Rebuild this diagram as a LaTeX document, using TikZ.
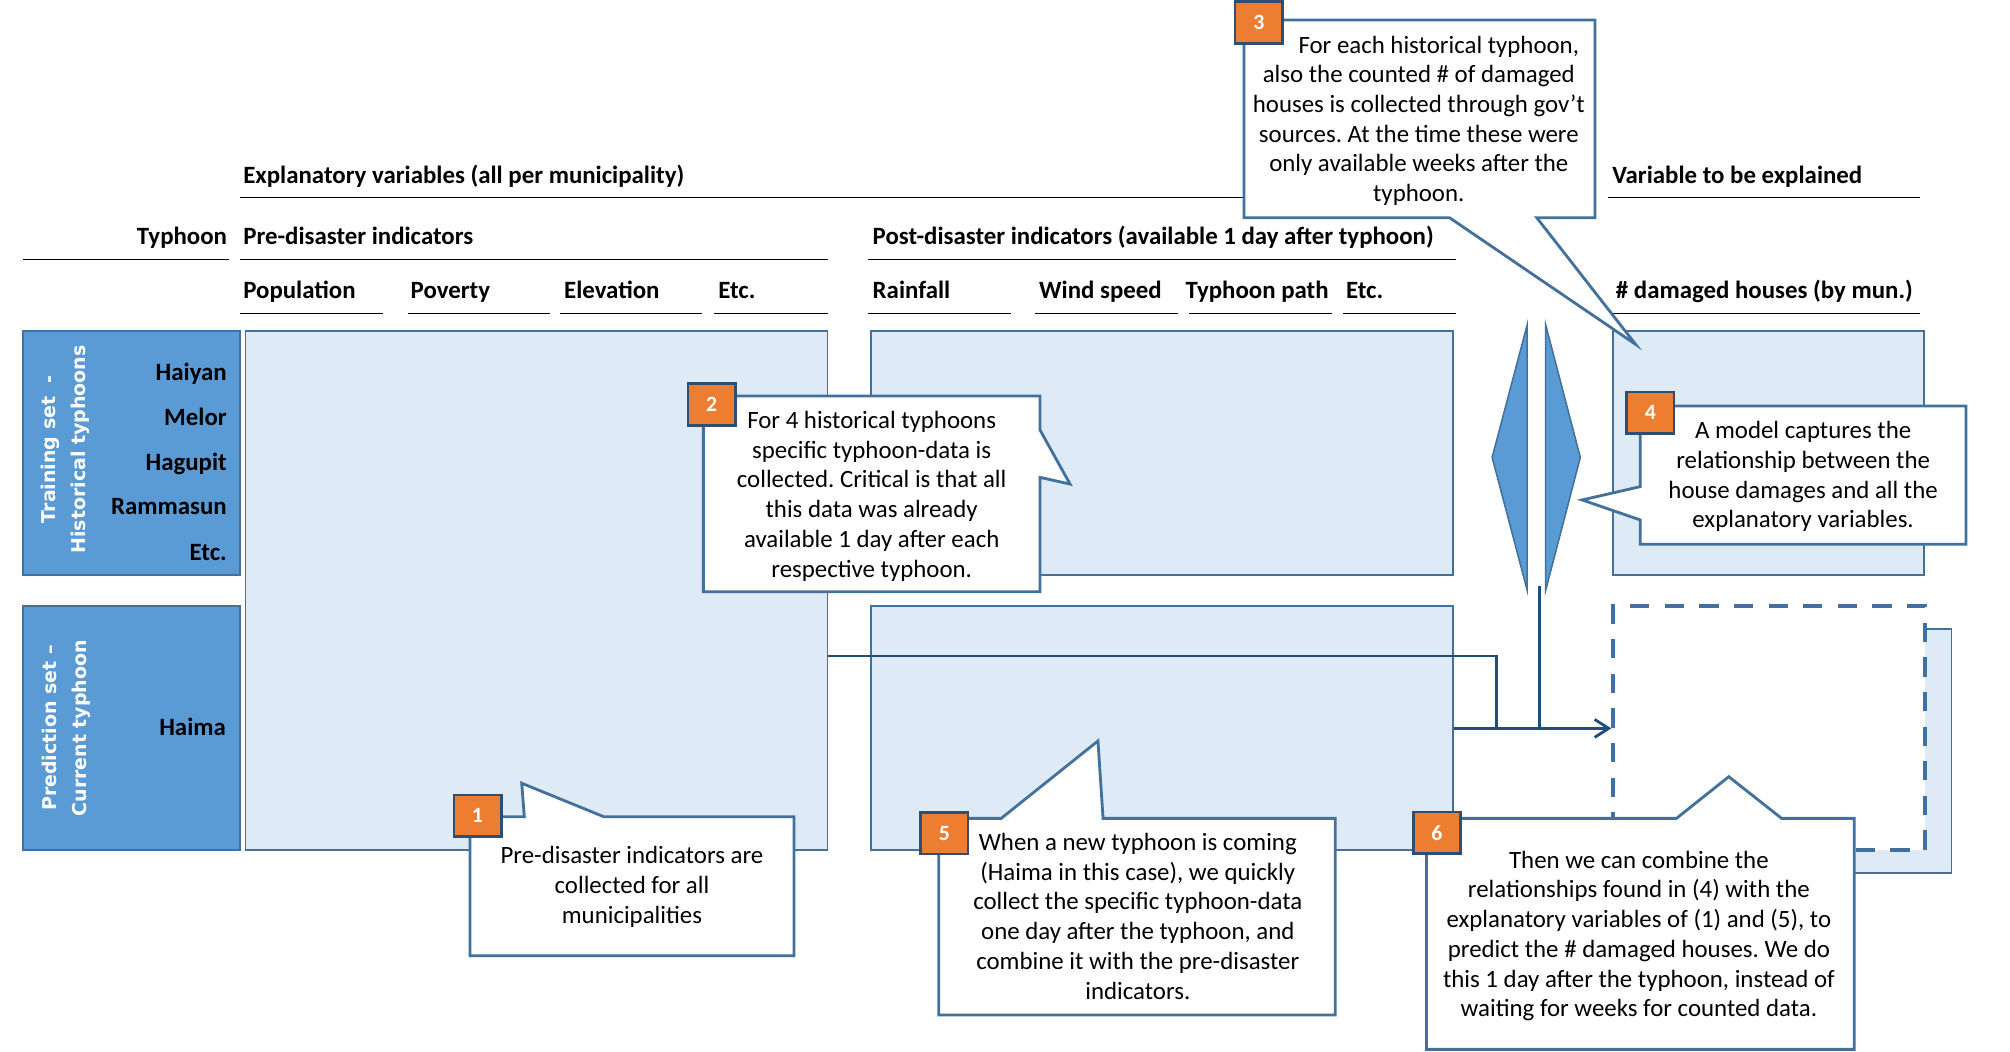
\documentclass[tikz,border=0pt]{standalone}
\usepackage{fontspec}
\setmainfont{Carlito}
\newfontfamily\vfont{DejaVu Sans}
\usetikzlibrary{arrows.meta,fit}
\definecolor{bfill}{HTML}{5B9BD5}
\definecolor{bborder}{HTML}{41719C}
\definecolor{lfill}{HTML}{DEEBF7}
\definecolor{conncol}{HTML}{1F4E79}
\definecolor{orangefill}{HTML}{ED7D31}
\definecolor{badgeborder}{HTML}{2E4F74}
\frenchspacing
\begin{document}
\frenchspacing
\begin{tikzpicture}[x=0.5pt,y=-0.5pt,
  every node/.style={font=\fontsize{9.7}{11.6}\selectfont},
  hdr/.style={font=\fontsize{9.7}{11.6}\selectfont\bfseries, inner sep=0, anchor=base west, text=black},
  hdrR/.style={hdr, anchor=base east},
  hline/.style={line width=0.5pt, black},
  bluebox/.style={draw=bborder, fill=bfill, line width=0.8pt, inner sep=0},
  lightbox/.style={draw=bborder, fill=lfill, line width=0.7pt, inner sep=0},
  shadowbox/.style={draw=bborder, fill=lfill, line width=0.7pt, inner sep=0},
  dashbox/.style={draw=bborder, fill=white, line width=1.6pt, dash pattern=on 7.5pt off 6pt, inner sep=0},
  vlabel/.style={rotate=90, align=center, text=white, inner sep=0,
     font=\fontsize{7.4}{11.65}\selectfont\vfont\bfseries,
     execute at begin node=\strut, execute at end node=\strut},
  callout/.style={draw=bborder, fill=white, line width=1.1pt, line join=miter},
  ctext/.style={align=center, inner sep=0, text=black,
     font=\fontsize{9.7}{11.6}\selectfont\frenchspacing,
     execute at begin node=\strut, execute at end node=\strut},
  badge/.style={draw=badgeborder, fill=orangefill, line width=1pt, minimum width=18.5pt,
     minimum height=16.25pt, inner sep=0, text=white, font=\fontsize{8.5}{10}\selectfont\bfseries},
  conn/.style={draw=conncol, line width=1.1pt},
  diam/.style={draw=bborder, fill=bfill, line width=0.6pt, line join=miter}
]
\useasboundingbox (0,0) rectangle (1568,820);

% ---------- headers ----------
\node[hdr] (hExp) at (189.4,143) {Explanatory variables (all per municipality)};
\node[hdr] (hVar) at (1257.4,143) {Variable to be explained};
\node[hdrR] (hTyp) at (177.5,190.4) {Typhoon};
\node[hdr] (hPre) at (189.4,190.4) {Pre-disaster indicators};
\node[hdr] (hPost) at (680.4,190.4) {Post-disaster indicators (available 1 day after typhoon)};
\node[hdr] (hPop) at (189.4,233) {Population};
\node[hdr] (hPov) at (320,233) {Poverty};
\node[hdr] (hEle) at (439.7,233) {Elevation};
\node[hdr] (hEtc1) at (560,233) {Etc.};
\node[hdr] (hRain) at (680.4,233) {Rainfall};
\node[hdr] (hWind) at (810.2,233) {Wind speed};
\node[hdr] (hPath) at (924.4,233) {Typhoon path};
\node[hdr] (hEtc2) at (1049.7,233) {Etc.};
\node[hdr] (hDmg) at (1260.2,233) {\# damaged houses (by mun.)};

\draw[hline] (187,153.9) -- (1137,153.9);
\draw[hline] (1254,153.9) -- (1498,153.9);
\draw[hline] (18,202.3) -- (178.5,202.3);
\draw[hline] (187,202.3) -- (646,202.3);
\draw[hline] (677.5,202.3) -- (1136,202.3);
\draw[hline] (187,244.4) -- (299,244.4);
\draw[hline] (318,244.4) -- (429,244.4);
\draw[hline] (437,244.4) -- (548,244.4);
\draw[hline] (557,244.4) -- (646,244.4);
\draw[hline] (677,244.4) -- (789,244.4);
\draw[hline] (807.5,244.4) -- (919,244.4);
\draw[hline] (927.5,244.4) -- (1039,244.4);
\draw[hline] (1048,244.4) -- (1136,244.4);
\draw[hline] (1257.5,244.4) -- (1498,244.4);

% ---------- left blue boxes ----------
\node[bluebox, fit={(18,258) (187.5,448.6)}] (trainB) {};
\node[bluebox, fit={(18,472.5) (187.5,663.1)}] (predB) {};
\node[vlabel] (trainL) at (53,350.5) {Training set\ \ -\\Historical typhoons};
\node[vlabel] (predL) at (53.5,568) {Prediction set –\\Current typhoon};
\node[hdrR] (nHai) at (177.3,297.2) {Haiyan};
\node[hdrR] (nMel) at (177.3,332.3) {Melor};
\node[hdrR] (nHag) at (177.3,367.2) {Hagupit};
\node[hdrR] (nRam) at (177.3,401.7) {Rammasun};
\node[hdrR] (nEtc) at (177.3,436.9) {Etc.};
\node[hdrR] (nHaima) at (176.6,573.4) {Haima};

% ---------- data boxes ----------
\node[lightbox, fit={(191.5,258.2) (645.5,663)}] (pre) {};
\node[lightbox, fit={(679.2,258.2) (1133.3,448.5)}] (postT) {};
\node[lightbox, fit={(679.2,472.6) (1133.3,663)}] (postP) {};
\node[lightbox, fit={(1258.3,258.3) (1500.8,448.5)}] (dmgT) {};
\node[shadowbox, fit={(1279.6,490.7) (1522.4,680.8)}] (shadow) {};
\node[dashbox, fit={(1258.6,472.6) (1501.4,663)}] (dmgP) {};

% ---------- double diamond ----------
\draw[diam] (1191.3,253.5) -- (1164,356.8) -- (1191.3,460.3) -- cycle;
\draw[diam] (1205.8,253.5) -- (1232.8,356.8) -- (1205.8,460.3) -- cycle;
\coordinate (dbot) at (1200.8,456.9);

% ---------- connectors ----------
\coordinate (j1) at (1167.5,511.7);
\coordinate (j2) at (1167.5,568.2);
\draw[conn] (postP.east |- j2) -- (j2);
\draw[conn] (dbot) -- (dbot |- j2);
\draw[conn, -{Straight Barb[length=5.5pt,width=7pt]}] (pre.east |- j1) -- (j1) -- (j2) -- (dmgP.west |- j2);

% ---------- callouts ----------
% 1
\draw[callout] (366.7,637.1) -- (409,637.1) -- (407,611) -- (471,637.1) -- (619.4,637.1)
   -- (619.4,745.5) -- (366.7,745.5) -- cycle;
\node[ctext] (t1) at (493,693.8) {Pre-disaster indicators are\\collected for all\\municipalities};
% 2
\draw[callout] (548.7,308.9) -- (811.3,308.9) -- (811.3,335.4) -- (834.7,377.6) -- (811.3,372.4)
   -- (811.3,461.6) -- (548.7,461.6) -- cycle;
\node[ctext] (t2) at (680,389) {For 4 historical typhoons\\specific typhoon-data is\\collected. Critical is that all\\this data was already\\available 1 day after each\\respective typhoon.};
% 3
\draw[callout] (970.4,15.6) -- (1244.3,15.6) -- (1244.3,169.8) -- (1198.8,169.8) -- (1275.9,268.6)
   -- (1130.7,169.8) -- (970.4,169.8) -- cycle;
\node[ctext] (t3) at (1106.8,96.1) {\hspace*{15.6pt}For each historical typhoon,\\also the counted \# of damaged\\houses is collected through gov’t\\sources. At the time these were\\only available weeks after the\\typhoon.};
% 4
\draw[callout] (1279.6,316.7) -- (1533.7,316.7) -- (1533.7,424.6) -- (1279.6,424.6)
   -- (1279.6,405.6) -- (1234.2,390) -- (1279.6,379.6) -- cycle;
\node[ctext] (t4) at (1406.6,373.8) {A model captures the\\relationship between the\\house damages and all the\\explanatory variables.};
% 5
\draw[callout] (732.3,638.4) -- (781,638.4) -- (856.5,578) -- (860.5,638.4) -- (1041.6,638.4)
   -- (1041.6,791.8) -- (732.3,791.8) -- cycle;
\node[ctext] (t5) at (887.6,718.2) {When a new typhoon is coming\\(Haima in this case), we quickly\\collect the specific typhoon-data\\one day after the typhoon, and\\combine it with the pre-disaster\\indicators.};
% 6
\draw[callout] (1112.8,638.4) -- (1307.8,638.4) -- (1348.6,605.9) -- (1389.8,638.4) -- (1446.5,638.4)
   -- (1446.5,818.6) -- (1112.8,818.6) -- cycle;
\node[ctext] (t6) at (1278.5,732) {Then we can combine the\\relationships found in (4) with the\\explanatory variables of (1) and (5), to\\predict the \# damaged houses. We do\\this 1 day after the typhoon, instead of\\waiting for weeks for counted data.};

% ---------- badges ----------
\node[badge] (b1) at (372.5,636.4) {1};
\node[badge] (b2) at (555.2,315.5) {2};
\node[badge] (b3) at (982,17.5) {3};
\node[badge] (b4) at (1287.4,322.1) {4};
\node[badge] (b5) at (736.7,650) {5};
\node[badge] (b6) at (1121,649.7) {6};
\end{tikzpicture}
\end{document}
